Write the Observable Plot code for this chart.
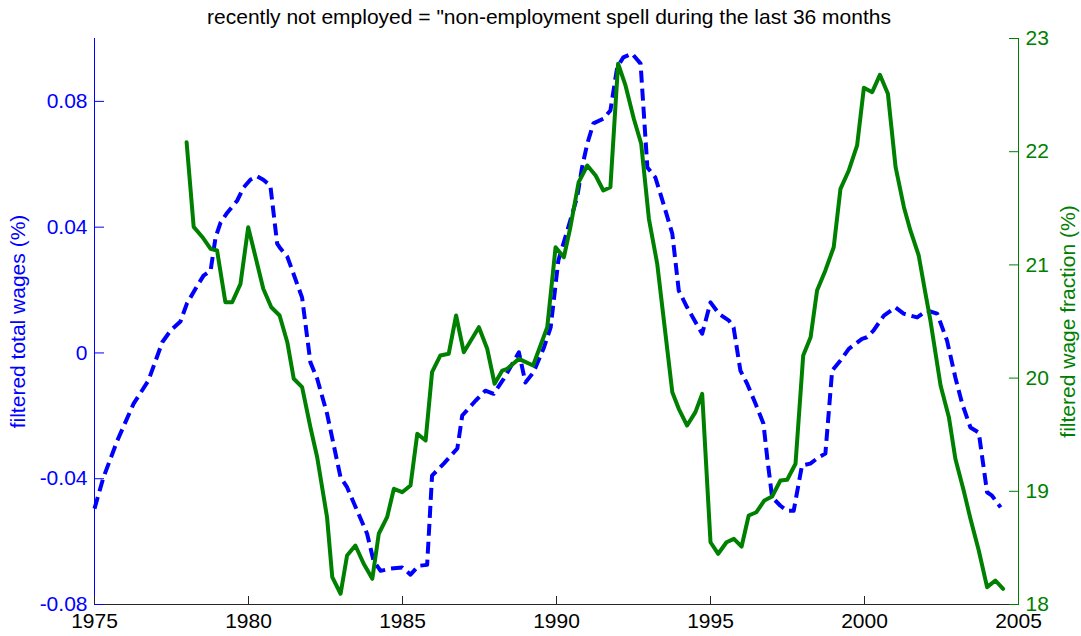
<!DOCTYPE html>
<html><head><meta charset="utf-8">
<script src="https://cdn.jsdelivr.net/npm/d3@7"></script>
<script src="https://cdn.jsdelivr.net/npm/@observablehq/plot@0.6"></script>
<style>
body{margin:0;background:#fff;font-family:"Liberation Sans",Arial,sans-serif;}
#wrap{position:relative;width:1081px;height:636px;overflow:hidden;}
#wrap svg{position:absolute;left:0;top:0;}
#title{position:absolute;top:5px;left:0;width:1098px;text-align:center;font-size:21px;color:#000;white-space:nowrap;}
</style></head><body>
<div id="wrap"><div id="title">recently not employed = "non-employment spell during the last 36 months</div></div>
<script>
const titleText = 'recently not employed = "non-employment spell during the last 36 months';
const leftLabel = "filtered total wages (%)";
const rightLabel = "filtered wage fraction (%)";
const xTicks = [1975, 1980, 1985, 1990, 1995, 2000, 2005];
const leftTicks = [-0.08, -0.04, 0, 0.04, 0.08];
const rightTicks = [18, 19, 20, 21, 22, 23];

const blueYears = [1975.00,1975.29,1975.74,1976.27,1976.75,1977.20,1977.47,1977.79,1978.00,1978.28,1978.54,1978.77,1978.93,1979.09,1979.31,1979.63,1979.84,1980.06,1980.28,1980.48,1980.71,1980.93,1981.04,1981.26,1981.46,1981.74,1982.01,1982.23,1982.55,1982.99,1983.20,1983.53,1983.85,1984.06,1984.29,1984.61,1984.99,1985.26,1985.52,1985.80,1985.96,1986.34,1986.78,1986.94,1987.37,1987.69,1987.96,1988.29,1988.78,1988.99,1989.25,1989.58,1989.81,1990.06,1990.35,1990.67,1990.83,1991.00,1991.20,1991.52,1991.75,1991.97,1992.17,1992.45,1992.73,1992.95,1993.21,1993.47,1993.76,1993.97,1994.24,1994.61,1994.73,1995.00,1995.27,1995.60,1995.75,1995.97,1996.19,1996.46,1996.72,1996.84,1997.00,1997.27,1997.49,1997.70,1997.97,1998.24,1998.51,1998.73,1998.95,1999.22,1999.49,1999.92,2000.08,2000.29,2000.63,2001.00,2001.27,2001.71,2002.03,2002.36,2002.68,2002.95,2003.17,2003.44,2003.71,2003.98,2004.14,2004.42];
const blueValues = [-0.0495,-0.0396,-0.0279,-0.0161,-0.0088,0.0034,0.0071,0.0100,0.0157,0.0204,0.0246,0.0262,0.0367,0.0414,0.0446,0.0484,0.0526,0.0551,0.0562,0.0551,0.0532,0.0348,0.0332,0.0306,0.0252,0.0176,-0.0030,-0.0082,-0.0193,-0.0396,-0.0427,-0.0502,-0.0575,-0.0661,-0.0693,-0.0686,-0.0682,-0.0705,-0.0677,-0.0674,-0.0390,-0.0352,-0.0304,-0.0199,-0.0152,-0.0120,-0.0130,-0.0082,0.0002,-0.0094,-0.0062,0.0014,0.0081,0.0294,0.0389,0.0495,0.0590,0.0666,0.0730,0.0745,0.0771,0.0908,0.0940,0.0952,0.0920,0.0590,0.0558,0.0475,0.0379,0.0198,0.0145,0.0081,0.0061,0.0161,0.0125,0.0103,0.0081,-0.0056,-0.0098,-0.0161,-0.0225,-0.0332,-0.0459,-0.0486,-0.0502,-0.0502,-0.0358,-0.0352,-0.0332,-0.0320,-0.0056,-0.0024,0.0013,0.0045,0.0050,0.0071,0.0119,0.0145,0.0125,0.0113,0.0135,0.0125,0.0039,-0.0078,-0.0161,-0.0237,-0.0253,-0.0443,-0.0454,-0.0491];

const greenYears = [1977.99,1978.22,1978.50,1978.77,1978.98,1979.25,1979.47,1979.74,1979.99,1980.23,1980.48,1980.74,1981.01,1981.26,1981.47,1981.74,1982.01,1982.23,1982.55,1982.72,1982.99,1983.20,1983.47,1983.74,1984.02,1984.23,1984.50,1984.72,1984.99,1985.26,1985.48,1985.75,1985.96,1986.23,1986.50,1986.74,1986.99,1987.48,1987.75,1987.99,1988.24,1988.40,1988.78,1989.24,1989.48,1989.70,1989.97,1990.24,1990.45,1990.72,1991.00,1991.27,1991.52,1991.75,1992.00,1992.24,1992.51,1992.75,1993.00,1993.27,1993.76,1993.97,1994.24,1994.51,1994.73,1995.00,1995.25,1995.52,1995.76,1996.01,1996.24,1996.49,1996.75,1997.00,1997.27,1997.49,1997.76,1998.01,1998.25,1998.46,1998.73,1999.00,1999.22,1999.49,1999.76,1999.98,2000.25,2000.50,2000.76,2001.01,2001.28,2001.49,2001.76,2001.98,2002.14,2002.47,2002.74,2002.95,2003.22,2003.44,2003.71,2003.98,2004.25,2004.50];
const greenValues = [22.084,21.336,21.247,21.142,21.127,20.670,20.670,20.833,21.333,21.068,20.789,20.626,20.553,20.317,19.994,19.920,19.566,19.301,18.771,18.241,18.095,18.433,18.521,18.360,18.227,18.625,18.771,19.022,18.992,19.051,19.508,19.449,20.052,20.200,20.215,20.553,20.229,20.450,20.259,19.950,20.067,20.082,20.170,20.111,20.288,20.450,21.156,21.068,21.333,21.731,21.878,21.790,21.657,21.686,22.777,22.585,22.291,22.070,21.407,21.010,19.875,19.729,19.581,19.699,19.861,18.550,18.448,18.550,18.580,18.512,18.786,18.815,18.919,18.954,19.095,19.102,19.243,20.200,20.361,20.774,20.951,21.156,21.672,21.834,22.055,22.565,22.526,22.679,22.512,21.863,21.510,21.304,21.083,20.747,20.509,19.935,19.655,19.287,19.007,18.757,18.477,18.153,18.212,18.139];

const blueData = blueYears.map((year, i) => ({year, value: blueValues[i]}));
const greenData = greenYears.map((year, i) => ({year, value: greenValues[i]}));

const font = "Liberation Sans, Arial, sans-serif";
const common = {
  width: 1081, height: 636,
  marginLeft: 94, marginRight: 63, marginTop: 38, marginBottom: 32,
  style: {background: "transparent", fontFamily: font, fontSize: "21px", overflow: "visible"}
};

const bluePlot = Plot.plot({
  ...common,
  x: {domain: [1975, 2005]},
  y: {domain: [-0.08, 0.1]},
  marks: [
    Plot.frame({anchor: "bottom", stroke: "#262626"}),
    Plot.frame({anchor: "left", stroke: "#0000ff"}),
    Plot.axisX({ticks: xTicks, tickFormat: d => String(d), tickSize: -8, tickPadding: 17, stroke: "#262626", fill: "#000", label: null}),
    Plot.axisY({ticks: leftTicks, tickFormat: d => String(d), tickSize: -10, tickPadding: 17, stroke: "#0000ff", fill: "#0000ff", label: null}),
    Plot.text([leftLabel], {frameAnchor: "left", text: d => d, rotate: -90, textAnchor: "middle", dx: -76, dy: 0, fill: "#0000ff"}),
    Plot.line(blueData, {x: "year", y: "value", stroke: "#0000ff", strokeWidth: 4, strokeDasharray: "12,6", strokeLinecap: "butt", strokeLinejoin: "round"})
  ]
});

const greenPlot = Plot.plot({
  ...common,
  x: {domain: [1975, 2005], axis: null},
  y: {domain: [18, 23]},
  marks: [
    Plot.frame({anchor: "right", stroke: "#008000"}),
    Plot.axisY({anchor: "right", ticks: rightTicks, tickFormat: d => String(d), tickSize: -10, tickPadding: 17, stroke: "#008000", fill: "#008000", label: null}),
    Plot.text([rightLabel], {frameAnchor: "right", text: d => d, rotate: -90, textAnchor: "middle", dx: 50, fill: "#008000"}),
    Plot.line(greenData, {x: "year", y: "value", stroke: "#008000", strokeWidth: 4, strokeLinejoin: "round"})
  ]
});

const wrap = document.getElementById("wrap");
wrap.appendChild(bluePlot);
wrap.appendChild(greenPlot);
</script>
</body></html>
